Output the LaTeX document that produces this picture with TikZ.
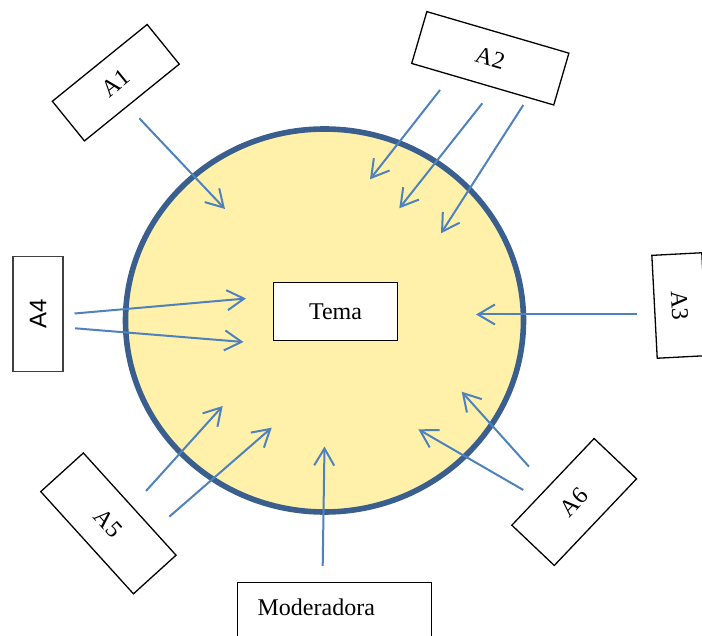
\documentclass[tikz,border=0pt]{standalone}
\usepackage{fontspec}
\setmainfont{Liberation Serif}
\newfontfamily\arialfont{Liberation Sans}
\usetikzlibrary{arrows.meta}
\definecolor{arrowblue}{HTML}{4F81BD}
\definecolor{ringblue}{HTML}{3A5F8E}
\definecolor{topicfill}{HTML}{FFF1A9}
\tikzset{
  labelbox/.style={draw=black, line width=0.65pt, fill=white, inner sep=0pt,
    font=\fontsize{12}{14}\selectfont},
  arr/.style={draw=arrowblue, line width=1pt,
    -{Straight Barb[length=8.5pt,width=10pt,line width=1pt]}},
}
\begin{document}
\begin{tikzpicture}[x=0.5pt,y=-0.5pt]
\useasboundingbox (0,0) rectangle (702,636);
\clip (0,0) rectangle (702,636);

% central topic area
\draw[draw=ringblue, fill=topicfill, line width=2.8pt]
  (324.5,320.5) ellipse [x radius=199, y radius=191.5];

% central topic and participants
\node[labelbox, minimum width=62pt, minimum height=29pt] (tema) at (335.5,311.5) {Tema};
\node[labelbox, minimum width=61pt, minimum height=25.5pt, rotate=39] (a1) at (115.8,82.7) {A1};
\node[labelbox, minimum width=74pt, minimum height=27pt, rotate=-16.3] (a2) at (490.3,58.3) {A2};
\node[labelbox, minimum width=51.5pt, minimum height=25pt, rotate=-87] (a3) at (679.5,305.5) {A3};
\node[labelbox, draw=black!75, minimum width=57.5pt, minimum height=25pt, rotate=90,
  font=\arialfont\fontsize{12}{14}\selectfont] (a4) at (38,314.3) {A4};
\node[labelbox, minimum width=69pt, minimum height=28.75pt, rotate=-47.8] (a5) at (108.4,523.4) {A5};
\node[labelbox, minimum width=59.75pt, minimum height=29.25pt, rotate=46.5] (a6) at (574.2,502) {A6};
\node[labelbox, anchor=north west, inner xsep=10pt, inner ysep=8.3pt,
  text width=77pt, align=left, text depth=40pt] (mod) at (237,582) {Moderadora};

% contribution arrows: start and end points
\coordinate (a1s) at (139.3,118.3);  \coordinate (a1e) at (225,209);
\coordinate (a2sa) at (440,90);      \coordinate (a2ea) at (370,179.3);
\coordinate (a2sb) at (482.3,103.3); \coordinate (a2eb) at (399.3,208.3);
\coordinate (a2sc) at (523.3,105);   \coordinate (a2ec) at (441,233.3);
\coordinate (a3s) at (636.7,314.5);  \coordinate (a3e) at (476,314.5);
\coordinate (a4sa) at (74.5,313.5);  \coordinate (a4ea) at (246,298.5);
\coordinate (a4sb) at (75,328.3);    \coordinate (a4eb) at (243.5,342);
\coordinate (a5sa) at (146,491);     \coordinate (a5ea) at (222.7,406);
\coordinate (a5sb) at (169.3,516.7); \coordinate (a5eb) at (271.7,427.7);
\coordinate (a6sa) at (529,466.7);   \coordinate (a6ea) at (461.7,391.7);
\coordinate (a6sb) at (523.3,490);   \coordinate (a6eb) at (418.3,429.3);
\coordinate (ms) at (322.7,566);     \coordinate (me) at (324.5,446.5);

\draw[arr] (a1s) -- (a1e);
\draw[arr] (a2sa) -- (a2ea);
\draw[arr] (a2sb) -- (a2eb);
\draw[arr] (a2sc) -- (a2ec);
\draw[arr] (a3s) -- (a3e);
\draw[arr] (a4sa) -- (a4ea);
\draw[arr] (a4sb) -- (a4eb);
\draw[arr] (a5sa) -- (a5ea);
\draw[arr] (a5sb) -- (a5eb);
\draw[arr] (a6sa) -- (a6ea);
\draw[arr] (a6sb) -- (a6eb);
\draw[arr] (ms) -- (me);
\end{tikzpicture}
\end{document}
